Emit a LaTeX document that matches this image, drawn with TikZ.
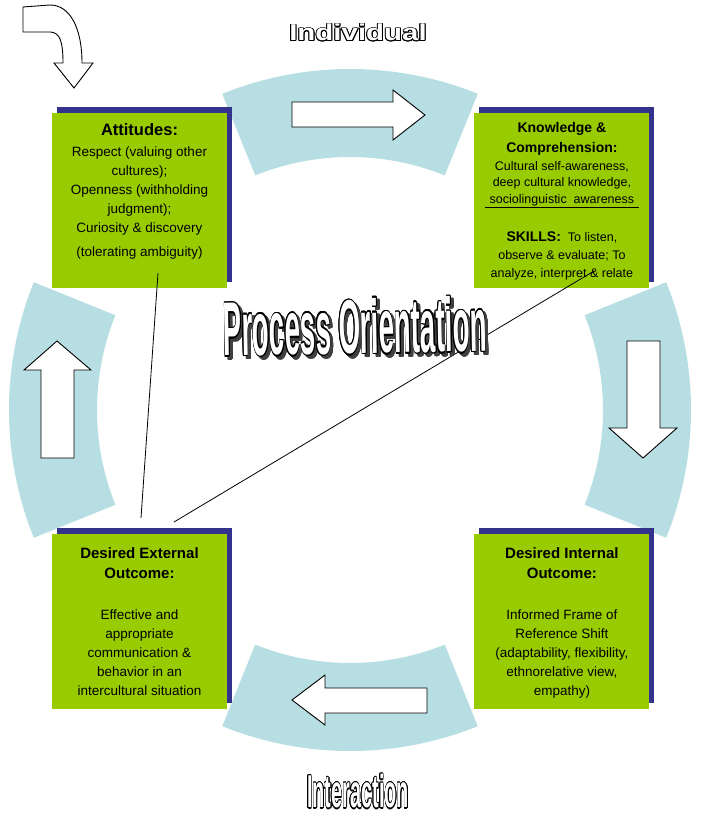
\documentclass[tikz,border=0pt]{standalone}
\usepackage{fontspec}
\setmainfont{Liberation Sans}
\usepackage{contour}
\usetikzlibrary{positioning, calc, shadows}

\definecolor{ringblue}{RGB}{183,222,227}
\definecolor{boxgreen}{RGB}{153,204,0}
\definecolor{boxnavy}{RGB}{51,51,140}

\newcommand{\bodyfont}{\fontsize{13.5}{19}\selectfont}
\newcommand{\smallbody}{\fontsize{12.5}{16.5}\selectfont}
\newcommand{\headfont}[1]{\fontsize{#1}{#1}\selectfont\bfseries}
\newcommand{\hollow}[1]{\contour{black}{\textcolor{white}{#1}}}

\tikzset{
  ringseg/.style={fill=ringblue}, % the four pieces of the ring
  blockarrow/.style={draw=black, fill=white, line width=0.9pt},
  box/.style={fill=boxgreen, minimum width=175pt, minimum height=175pt,
    inner sep=0pt,
    drop shadow={shadow xshift=5pt, shadow yshift=6pt, fill=boxnavy,
      opacity=1}},
  boxtext/.style={align=center, inner sep=0pt},
  link/.style={draw=black, line width=0.8pt},
}

\begin{document}
\begin{tikzpicture}[x=1pt, y=-1pt, node distance=247pt]
  \useasboundingbox (0,0) rectangle (709,821);
  \coordinate (ctr) at (350,410);

  % ring
  \foreach \a in {0,90,180,270}
    \fill[ringseg] ($(ctr)+(\a-22:341)$)
      arc[start angle=\a-22, end angle=\a+22, radius=341]
      -- ($(ctr)+(\a+22:253)$)
      arc[start angle=\a+22, end angle=\a-22, radius=253] -- cycle;

  % arrows round the ring
  \draw[blockarrow] (292,102) -- (393,102) -- (393,90) -- (425,115)
    -- (393,140) -- (393,127) -- (292,127) -- cycle;
  \draw[blockarrow] (627,341) -- (660,341) -- (660,428) -- (677,428)
    -- (643,458) -- (609,428) -- (627,428) -- cycle;
  \draw[blockarrow] (427,688) -- (325,688) -- (325,675) -- (292,700)
    -- (325,725) -- (325,713) -- (427,713) -- cycle;
  \draw[blockarrow] (41,458) -- (41,370) -- (24,370) -- (57,341)
    -- (91,370) -- (74,370) -- (74,458) -- cycle;
  % start arrow
  \draw[blockarrow] (23,7) -- (50,5) .. controls (70,5) and (82,28) .. (82,63)
    -- (93,63) -- (74,88) -- (54,63) -- (63,63)
    .. controls (63,42) and (60,32) .. (50,32) -- (23,32) -- cycle;

  % boxes
  \node[box] (att) at (139.5,200.5) {};
  \node[box, right=of att] (know) {};
  \node[box, below=246pt of att] (ext) {};
  \node[box, right=of ext] (int) {};

  \node[boxtext, font=\bodyfont, below=10.5pt of att.north] (atttext)
    {{\headfont{16.5}Attitudes:}\\[2pt]
     Respect (valuing other\\ cultures);\\ Openness (withholding\\
     judgment);\\ Curiosity \& discovery\\[5pt] (tolerating ambiguity)};

  \node[boxtext, font=\smallbody, below=9.5pt of know.north] (knowtext)
    {{\headfont{14}Knowledge \&}\\[3.5pt] {\headfont{14}Comprehension:}\\[1pt]
     Cultural self-awareness,\\ deep cultural knowledge,\\
     sociolinguistic\ \ awareness};
  \draw[line width=1.2pt] ($(know.north west)+(11,95)$) -- ++(154,0);
  \node[boxtext, font=\fontsize{12.5}{18}\selectfont,
    below=118.5pt of know.north] (skilltext)
    {{\headfont{14}SKILLS:}\ \ To listen,\\ observe \& evaluate; To\\
     analyze, interpret \& relate};

  \node[boxtext, font=\bodyfont, below=13pt of ext.north] (exttext)
    {{\headfont{15}Desired External}\\[1pt] {\headfont{15}Outcome:}\\[22.5pt]
     Effective and\\ appropriate\\ communication \&\\ behavior in an\\
     intercultural situation};

  \node[boxtext, font=\bodyfont, below=13pt of int.north] (inttext)
    {{\headfont{15}Desired Internal}\\[1pt] {\headfont{15}Outcome:}\\[22.5pt]
     Informed Frame of\\ Reference Shift\\ (adaptability, flexibility,\\
     ethnorelative view,\\ empathy)};

  % links
  \coordinate (linkA) at (158,273);
  \coordinate (linkB) at (141,518);
  \coordinate (linkC) at (174,522);
  \coordinate (linkD) at (594,271);
  \draw[link] (linkA) -- (linkB);
  \draw[link] (linkC) -- (linkD);

  % titles
  \contourlength{0.75pt}
  \node[inner sep=0pt, font=\headfont{23}] (indiv) at (358,33)
    {\scalebox{1.28}[1]{\hollow{Individual}}};
  \contourlength{0.6pt}
  \node[inner sep=0pt, font=\headfont{24}] (inter) at (358,792)
    {\scalebox{0.83}[1.92]{\hollow{Interaction}}};
  \contourlength{0.8pt}
  \node[inner sep=0pt, font=\headfont{38}, rotate=1] (procshade) at (358,330)
    {\scalebox{0.73}[2.0]{\contour{black!75}{\textcolor{black!75}{Process Orientation}}}};
  \node[inner sep=0pt, font=\headfont{38}, rotate=1] (proc) at (355,327)
    {\scalebox{0.73}[2.0]{\hollow{Process Orientation}}};
\end{tikzpicture}
\end{document}
